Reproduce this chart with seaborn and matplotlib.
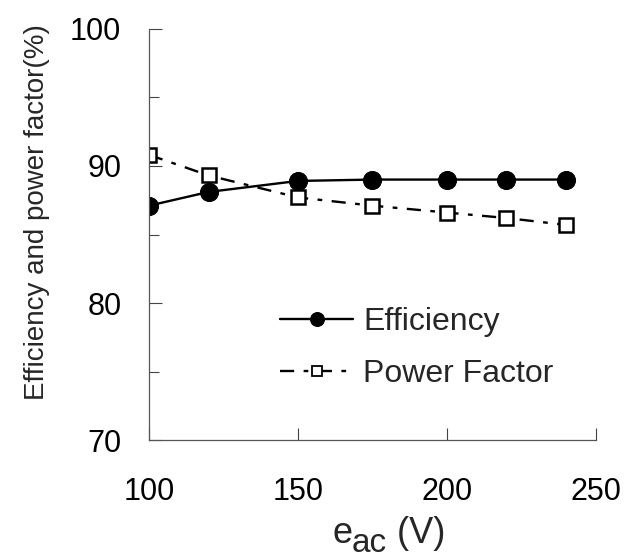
import numpy as np
import pandas as pd
import matplotlib
matplotlib.use('Agg')
import matplotlib.pyplot as plt
import seaborn as sns
from matplotlib.ticker import MultipleLocator

# Data
voltage = [100, 120, 150, 175, 200, 220, 240]
efficiency = [87.1, 88.1, 88.9, 89.0, 89.0, 89.0, 89.0]
power_factor = [90.8, 89.3, 87.7, 87.1, 86.6, 86.2, 85.7]

sns.set_style('white')
plt.rcParams['font.family'] = ['Liberation Sans', 'DejaVu Sans']

W, H = 629, 559
fig = plt.figure(figsize=(W / 100, H / 100), dpi=100)
ax = fig.add_axes([0.237, 0.212, 0.710, 0.737])

sns.lineplot(x=voltage, y=efficiency, ax=ax, color='black', lw=1.7,
             marker='o', markersize=13, markeredgecolor='black',
             markerfacecolor='black', label='Efficiency')
sns.lineplot(x=voltage, y=power_factor, ax=ax, color='black', lw=1.7,
             linestyle=(0, (6, 4, 2, 4)), marker='s', markersize=10.5,
             markerfacecolor='white', markeredgecolor='black',
             markeredgewidth=1.8, label='Power Factor')

ax.set_xlim(100, 250)
ax.set_ylim(70, 100)
ax.xaxis.set_major_locator(MultipleLocator(50))
ax.yaxis.set_major_locator(MultipleLocator(10))
ax.yaxis.set_minor_locator(MultipleLocator(5))
ax.tick_params(which='both', left=True, bottom=True, direction='in', width=0.8,
               colors='#444444', labelsize=22, labelcolor='black')
ax.tick_params(which='major', length=9)
ax.tick_params(which='minor', length=7)
ax.tick_params(axis='x', pad=26)
ax.tick_params(axis='y', pad=20)

for side in ['top', 'right']:
    ax.spines[side].set_visible(False)
for side in ['left', 'bottom']:
    ax.spines[side].set_color('#555555')
    ax.spines[side].set_linewidth(0.9)

ax.set_ylabel('Efficiency and power factor(%)', fontsize=20)
ax.yaxis.set_label_coords(-0.222, 0.555)

# x label: "e" with a large lowered "ac" subscript, then " (V)"
fig.canvas.draw()
r = fig.canvas.get_renderer()
yb = (H - 543) / H
t1 = fig.text(332 / W, yb, 'e', fontsize=26, va='baseline', ha='left')
bb = t1.get_window_extent(r)
t2 = fig.text(bb.x1 / W, yb - 9 / H, 'ac', fontsize=24, va='baseline', ha='left')
bb2 = t2.get_window_extent(r)
fig.text(bb2.x1 / W, yb, ' (V)', fontsize=26, va='baseline', ha='left')

leg = ax.legend(loc='center left', bbox_to_anchor=(0.293, 0.224), frameon=False,
                fontsize=23, handlelength=2.3, handletextpad=0.3, labelspacing=0.7,
                borderpad=0, borderaxespad=0)
leg.legend_handles[0].set_markersize(10)
leg.legend_handles[1].set_markersize(7)
leg.legend_handles[1].set_markeredgewidth(1.3)

fig.savefig('out.png', dpi=100)
